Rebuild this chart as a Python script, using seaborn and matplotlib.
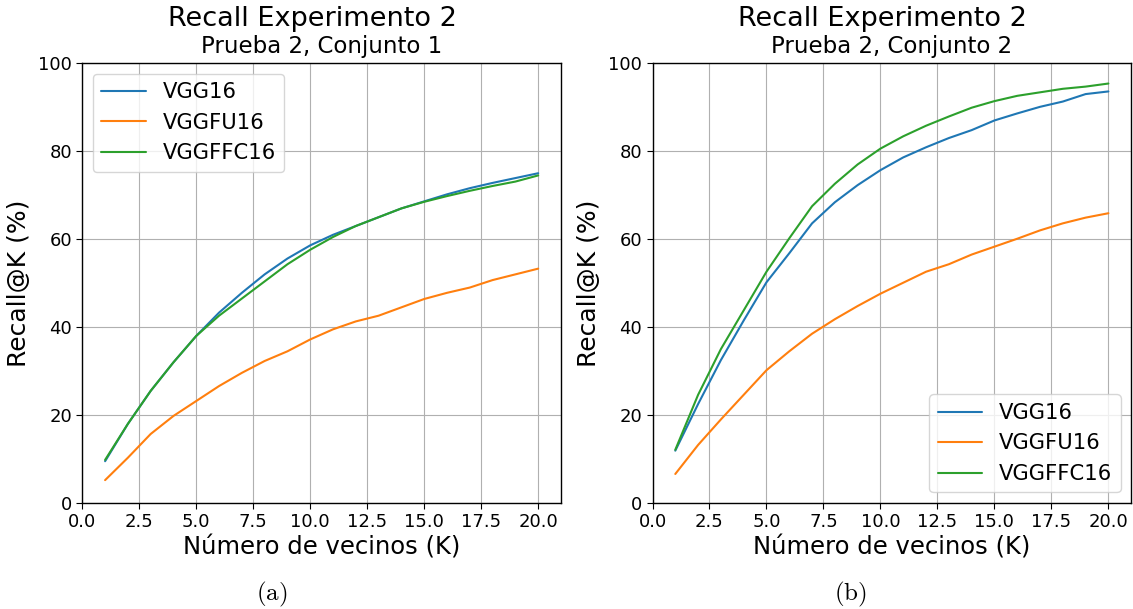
import numpy as np
import pandas as pd
import matplotlib
matplotlib.use("Agg")
import matplotlib.pyplot as plt
import seaborn as sns

k = list(range(1, 21))
models = ["VGG16", "VGGFU16", "VGGFFC16"]

c1_vgg16 = [9.5, 18, 25.5, 32, 38, 43.3, 47.8, 52, 55.6, 58.6, 61, 63, 65, 67, 68.6, 70.2, 71.6, 72.8, 73.9, 75]
c1_vggfu16 = [5.2, 10.3, 15.7, 19.8, 23.2, 26.6, 29.6, 32.3, 34.5, 37.2, 39.5, 41.3, 42.6, 44.5, 46.4, 47.8, 49.0, 50.7, 52.0, 53.3]
c1_vggffc16 = [9.8, 18, 25.5, 32, 38, 42.6, 46.5, 50.4, 54.3, 57.6, 60.5, 63, 65, 67, 68.5, 69.8, 71, 72.1, 73.1, 74.5]

c2_vgg16 = [11.9, 22.5, 32.5, 41.5, 50.2, 56.8, 63.6, 68.4, 72.3, 75.7, 78.6, 80.9, 83.0, 84.8, 87.0, 88.6, 90.1, 91.3, 93.0, 93.6]
c2_vggfu16 = [6.6, 13.2, 19.0, 24.6, 30.2, 34.5, 38.5, 41.8, 44.8, 47.6, 50.1, 52.6, 54.3, 56.5, 58.3, 60.1, 62.0, 63.6, 64.9, 65.9]
c2_vggffc16 = [12.1, 24.6, 35.0, 43.8, 52.6, 60.2, 67.5, 72.6, 77.0, 80.6, 83.4, 85.8, 87.9, 89.9, 91.4, 92.6, 93.4, 94.2, 94.7, 95.4]

subtitles = ["Prueba 2, Conjunto 1", "Prueba 2, Conjunto 2"]
captions = ["(a)", "(b)"]
xticks = [0.0, 2.5, 5.0, 7.5, 10.0, 12.5, 15.0, 17.5, 20.0]
yticks = [0, 20, 40, 60, 80, 100]


def make_df(a, b, c):
    rows = []
    for name, vals in zip(models, [a, b, c]):
        for kk, v in zip(k, vals):
            rows.append({"K": kk, "Recall": v, "Modelo": name})
    return pd.DataFrame(rows)


dfs = [make_df(c1_vgg16, c1_vggfu16, c1_vggffc16),
       make_df(c2_vgg16, c2_vggfu16, c2_vggffc16)]

sns.set_style("ticks")
plt.rcParams["font.family"] = ["DejaVu Sans"]
plt.rcParams["mathtext.fontset"] = "cm"
plt.rcParams["text.color"] = "black"
plt.rcParams["axes.labelcolor"] = "black"
plt.rcParams["xtick.color"] = "black"
plt.rcParams["ytick.color"] = "black"

fig = plt.figure(figsize=(11.33, 6.09), dpi=100)
W, H = 1133, 609
ax_w = 478.7 / W
ax_h = (503 - 63.3) / H
bottom = (H - 503) / H
lefts = [82.3 / W, 652.5 / W]
palette = ["#1f77b4", "#ff7f0e", "#2ca02c"]
legend_locs = ["upper left", "lower right"]
cap_x = [272 / W, 850 / W]

for i in range(2):
    ax = fig.add_axes([lefts[i], bottom, ax_w, ax_h])
    sns.lineplot(data=dfs[i], x="K", y="Recall", hue="Modelo", palette=palette,
                 ax=ax, linewidth=1.5)
    ax.set_xlim(0, 21)
    ax.set_ylim(0, 100)
    ax.set_xticks(xticks)
    ax.set_xticklabels([f"{t:.1f}" for t in xticks])
    ax.set_yticks(yticks)
    ax.tick_params(labelsize=13, length=4, color="black", labelcolor="black")
    ax.grid(True, color="#b0b0b0", linewidth=0.8)
    ax.set_axisbelow(True)
    for s in ax.spines.values():
        s.set_visible(True)
        s.set_color("black")
        s.set_linewidth(1.0)
    ax.set_xlabel("Número de vecinos (K)", fontsize=17.5, labelpad=3, color="black")
    ax.set_ylabel("Recall@K (%)", fontsize=18, labelpad=5, color="black")
    ax.text(0.48, 1.085, "Recall Experimento 2", transform=ax.transAxes,
            ha="center", va="baseline", fontsize=19.5, color="black")
    ax.text(0.5, 1.024, subtitles[i], transform=ax.transAxes,
            ha="center", va="baseline", fontsize=16.5, color="black")
    leg = ax.legend(loc=legend_locs[i], fontsize=15.2, handlelength=2.1,
                    frameon=True, framealpha=0.8, edgecolor="#cccccc",
                    fancybox=True, title=None)
    for t in leg.get_texts():
        t.set_color("black")
    fig.text(cap_x[i], 1 - 600 / H, r"$\mathrm{" + captions[i] + "}$",
             ha="center", va="baseline", fontsize=18, color="black")

fig.savefig("out.png", dpi=100, facecolor="white")
